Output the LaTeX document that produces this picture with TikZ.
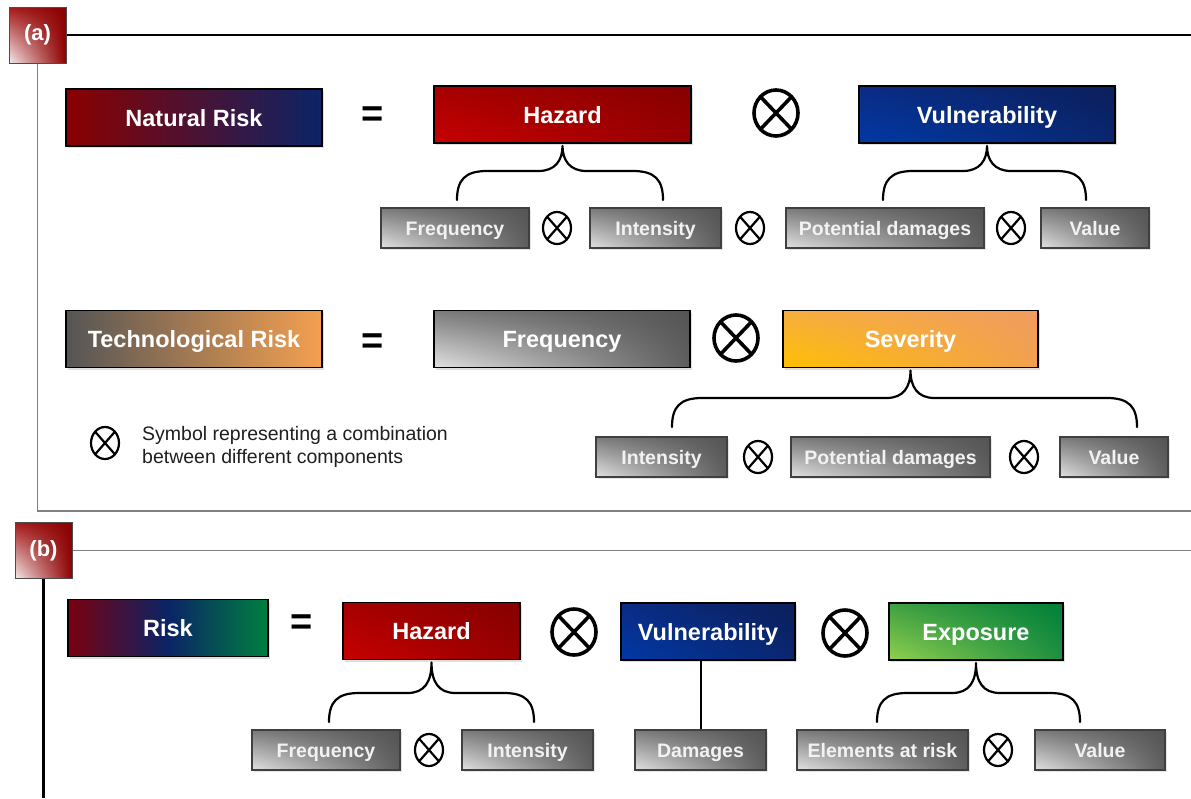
\documentclass[tikz,border=0pt]{standalone}
\usepackage{fontspec}
\setmainfont{Liberation Sans}
\usetikzlibrary{shapes.geometric,shadings,calc,shadows}
\definecolor{hzLL}{HTML}{C80000}\definecolor{hzUL}{HTML}{A60000}\definecolor{hzLR}{HTML}{980000}\definecolor{hzUR}{HTML}{860000}
\definecolor{vuLL}{HTML}{0039A6}\definecolor{vuUL}{HTML}{0A2C84}\definecolor{vuLR}{HTML}{0A2670}\definecolor{vuUR}{HTML}{0B1F5A}
\definecolor{sgLL}{HTML}{E2E2E2}\definecolor{sgUL}{HTML}{7A7A7A}\definecolor{sgLR}{HTML}{5E5E5E}\definecolor{sgUR}{HTML}{545454}
\definecolor{svLL}{HTML}{FFC000}\definecolor{svUL}{HTML}{F6AE40}\definecolor{svLR}{HTML}{F2A04E}\definecolor{svUR}{HTML}{F09C60}
\definecolor{exLL}{HTML}{92D050}\definecolor{exUL}{HTML}{3EA040}\definecolor{exLR}{HTML}{1E9040}\definecolor{exUR}{HTML}{007F3A}
\definecolor{lbLL}{HTML}{F6ECEC}\definecolor{lbUL}{HTML}{A41A1A}\definecolor{lbLR}{HTML}{8E0000}\definecolor{lbUR}{HTML}{8B0000}
\definecolor{nrL}{HTML}{8B0000}\definecolor{nrR}{HTML}{0B2466}
\definecolor{trL}{HTML}{555555}\definecolor{trR}{HTML}{F4A050}
\definecolor{rkL}{HTML}{7A0010}\definecolor{rkM}{HTML}{0A2466}\definecolor{rkR}{HTML}{008040}
\definecolor{framegray}{HTML}{808080}
\tikzset{
  bigbox/.style={rectangle, draw=black, line width=1.8pt, minimum height=57pt, inner sep=0pt,
    text height=17pt, text depth=0pt,
    text=white, font=\fontsize{23.5}{28}\selectfont\bfseries,
    drop shadow={shadow xshift=2pt, shadow yshift=-2pt, opacity=0.25}},
  smallbox/.style={rectangle, draw=black!75, line width=1.1pt, minimum height=40pt, inner sep=0pt,
    text height=14pt, text depth=0pt,
    text=white!95!black, font=\fontsize{19.5}{23}\selectfont\bfseries,
    lower left=sgLL, upper left=sgUL, lower right=sgLR, upper right=sgUR,
    drop shadow={shadow xshift=2pt, shadow yshift=-2pt, opacity=0.2}},
  hazfill/.style={lower left=hzLL, upper left=hzUL, lower right=hzLR, upper right=hzUR},
  vulfill/.style={lower left=vuLL, upper left=vuUL, lower right=vuLR, upper right=vuUR},
  sevfill/.style={lower left=svLL, upper left=svUL, lower right=svLR, upper right=svUR},
  expfill/.style={lower left=exLL, upper left=exUL, lower right=exLR, upper right=exUR},
  biggray/.style={lower left=sgLL, upper left=sgUL, lower right=sgLR, upper right=sgUR},
  labelbox/.style={rectangle, draw=black!70, line width=1pt, minimum width=57pt, minimum height=56pt,
    inner sep=0pt, text=white, font=\fontsize{22}{26}\selectfont\bfseries,
    lower left=lbLL, upper left=lbUL, lower right=lbLR, upper right=lbUR},
  eqsign/.style={font=\fontsize{38}{40}\selectfont\bfseries, inner sep=0pt},
  otbig/.style={ellipse, draw=black, line width=3.6pt, minimum width=44pt, minimum height=46pt, inner sep=0pt,
    path picture={\draw[line width=3.6pt] (path picture bounding box.north west)--(path picture bounding box.south east)
      (path picture bounding box.north east)--(path picture bounding box.south west);}},
  otsmall/.style={ellipse, draw=black, line width=2.2pt, minimum width=28pt, minimum height=32pt, inner sep=0pt,
    path picture={\draw[line width=2.2pt] (path picture bounding box.north west)--(path picture bounding box.south east)
      (path picture bounding box.north east)--(path picture bounding box.south west);}},
  bracestyle/.style={draw=black, line width=2.2pt, line cap=round},
  linkstyle/.style={draw=black, line width=2pt}
}
% #1 parent node, #2 left x, #3 right x, #4 bottom y (negative)
\newcommand{\riskbrace}[4]{%
  \draw[bracestyle] let \p1=(#1.south) in
    (#2,#4) .. controls (#2,#4+20) and (#2+8,#4+29) .. (#2+30,#4+29)
    -- (\x1-24,#4+29) .. controls (\x1-7,#4+29) and (\x1,#4+40) .. (\x1,\y1-2)
    (#3,#4) .. controls (#3,#4+20) and (#3-8,#4+29) .. (#3-30,#4+29)
    -- (\x1+24,#4+29) .. controls (\x1+7,#4+29) and (\x1,#4+40) .. (\x1,\y1-2);}
\begin{document}
\begin{tikzpicture}[x=1pt,y=1pt]
\useasboundingbox (0,0) rectangle (1191,-798);
\fill[white] (0,0) rectangle (1191,-798);

% ---------- frame (a)
\node[labelbox] (laba) at (37.5,-35) {(a)};
\draw[black, line width=1.2pt] (laba.east) -- (1191,-35);
\draw[framegray, line width=1.6pt] (laba.south) -- (37.5,-511) -- (1191,-511);

% ---------- row 1
\node[bigbox, minimum width=256pt, left color=nrL, right color=nrR] (natrisk) at (194,-117.5) {Natural Risk};
\node[eqsign] (eq1) at (373,-117) {=};
\node[bigbox, minimum width=257pt, hazfill] (haz1) at (562.5,-114.5) {Hazard};
\node[otbig] (ot1) at (776,-113) {};
\node[bigbox, minimum width=256pt, vulfill] (vul1) at (987,-114.5) {Vulnerability};

\node[smallbox, minimum width=148pt] (freq1) at (455,-228) {Frequency};
\node[otsmall] (os1) at (557,-228) {};
\node[smallbox, minimum width=131pt] (int1) at (655.5,-228) {Intensity};
\node[otsmall] (os2) at (750,-228) {};
\node[smallbox, minimum width=198pt] (pd1) at (885,-228) {Potential damages};
\node[otsmall] (os3) at (1011,-228) {};
\node[smallbox, minimum width=108pt] (val1) at (1095,-228) {Value};

\riskbrace{haz1}{457}{663}{-200}
\riskbrace{vul1}{883}{1086}{-200}

% ---------- row 2
\node[bigbox, minimum width=256pt, left color=trL, right color=trR] (techrisk) at (194,-339) {Technological Risk};
\node[eqsign] (eq2) at (373,-344) {=};
\node[bigbox, minimum width=256pt, biggray] (freq2) at (562,-339) {Frequency};
\node[otbig] (ot2) at (736,-338) {};
\node[bigbox, minimum width=255pt, sevfill] (sev) at (910.5,-339) {Severity};

\node[smallbox, minimum width=131pt] (int2) at (661.5,-457) {Intensity};
\node[otsmall] (os4) at (758,-457) {};
\node[smallbox, minimum width=199pt] (pd2) at (890.5,-457) {Potential damages};
\node[otsmall] (os5) at (1024,-457) {};
\node[smallbox, minimum width=108pt] (val2) at (1114,-457) {Value};

\riskbrace{sev}{672}{1137}{-427}

% legend
\node[otsmall] (oslegend) at (105,-443) {};
\node[anchor=west, align=left, inner sep=0pt, text=black!88, font=\fontsize{19.5}{23.5}\selectfont] (legtext) at (142,-447)
  {Symbol representing a combination\\between different components};

% ---------- frame (b)
\node[labelbox] (labb) at (43.5,-550.5) {(b)};
\draw[framegray, line width=1.6pt] (labb.east) -- (1191,-550.5);
\draw[black, line width=2.2pt] (labb.south) -- (labb.south |- 0,-798);

% ---------- row 3
\node[bigbox, minimum width=200pt, left color=rkL, right color=rkR, middle color=rkM] (risk) at (168,-628) {Risk};
\node[eqsign] (eq3) at (302,-625) {=};
\node[bigbox, minimum width=177pt, hazfill] (haz2) at (431.5,-631) {Hazard};
\node[otbig] (ot3) at (574,-632) {};
\node[bigbox, minimum width=174pt, vulfill] (vul2) at (708,-631.5) {Vulnerability};
\node[otbig] (ot4) at (845,-633) {};
\node[bigbox, minimum width=174pt, expfill] (exp) at (976,-631.5) {Exposure};

\node[smallbox, minimum width=148pt] (freq3) at (326,-750) {Frequency};
\node[otsmall] (os6) at (429,-750) {};
\node[smallbox, minimum width=131pt] (int3) at (527.5,-750) {Intensity};
\node[smallbox, minimum width=131pt] (dam) at (700.5,-750) {Damages};
\node[smallbox, minimum width=171pt] (ear) at (882.5,-750) {Elements at risk};
\node[otsmall] (os7) at (998,-750) {};
\node[smallbox, minimum width=130pt] (val3) at (1100,-750) {Value};

\riskbrace{haz2}{329}{534}{-722}
\riskbrace{exp}{877}{1080}{-722}
\draw[linkstyle] (dam.north) -- (dam.north |- vul2.south);
\end{tikzpicture}
\end{document}
